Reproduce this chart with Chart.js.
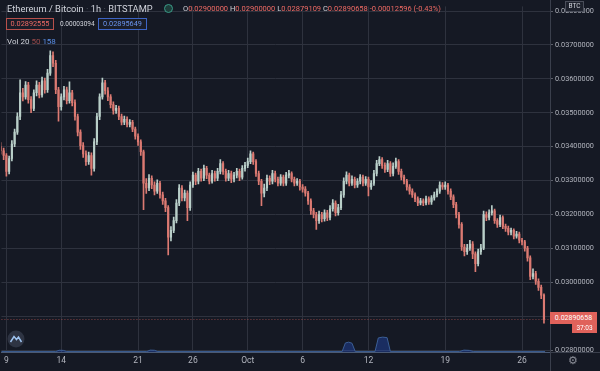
<!DOCTYPE html>
<html>
<head>
<meta charset="utf-8">
<script src="https://cdn.jsdelivr.net/npm/chart.js@4.4.0/dist/chart.umd.min.js"></script>
<style>
  html, body { margin: 0; padding: 0; background: #151924; }
  #wrap { position: relative; width: 600px; height: 371px; background: #151924; font-family: Roboto, "Noto Sans", sans-serif; overflow: hidden; }
  #wrap canvas { position: absolute; left: 0; top: 0; }
  .lbl { position: absolute; white-space: nowrap; line-height: 1; }
  .box { position: absolute; box-sizing: border-box; text-align: center; white-space: nowrap; }
  .w { color: #d1d4dc; }
  .r { color: #ef6a64; }
</style>
</head>
<body>
<div id="wrap">
  <canvas id="ethChart" width="600" height="371"></canvas>

  <div class="lbl w" style="left:7px;top:4px;font-size:9.3px;">Ethereum / Bitcoin <span style="color:#5d606b">·</span> 1h <span style="color:#5d606b">·</span> BITSTAMP</div>
  <div style="position:absolute;left:164px;top:4px;width:9px;height:9px;border-radius:50%;background:#1d3d3a;border:1.5px solid #3b9c88;box-sizing:border-box;"></div>
  <div class="lbl" style="left:183px;top:5px;font-size:7.5px;">
    <span class="w">O</span><span class="r">0.02900000</span>
    <span class="w">H</span><span class="r">0.02900000</span>
    <span class="w">L</span><span class="r">0.02879109</span>
    <span class="w">C</span><span class="r">0.02890658</span>
    <span class="r">-0.00012596 (-0.43%)</span>
  </div>

  <div class="box" style="left:6px;top:18px;width:48px;height:12px;border:1px solid #b8504b;color:#ef6a64;font-size:7.3px;line-height:10px;background:#1a1d28;">0.02892555</div>
  <div class="lbl w" style="left:60px;top:21px;font-size:6.5px;">0.00003094</div>
  <div class="box" style="left:98px;top:18px;width:49px;height:12px;border:1px solid #3d64c4;color:#6a94ef;font-size:7.3px;line-height:10px;background:#1a1d28;">0.02895649</div>

  <div class="lbl" style="left:7px;top:38px;font-size:8px;">
    <span class="w">Vol 20</span> <span style="color:#9c4b4b">50</span> <span style="color:#5a8fe8">158</span>
  </div>

  <div class="box" style="left:565px;top:1px;width:19px;height:11px;border:1px solid #4a4e5a;background:#1e222d;color:#d1d4dc;font-size:6.5px;line-height:9px;">BTC</div>

  <div class="box" style="left:550px;top:312px;width:47px;height:12px;background:#e0625b;color:#ffffff;font-size:7px;line-height:12px;">0.02890658</div>
  <div class="box" style="left:572px;top:324px;width:25px;height:9px;background:#e0625b;color:#ffffff;font-size:6.5px;line-height:9px;">37:03</div>

  <div class="lbl" style="left:568px;top:355px;font-size:11px;color:#8b8e98;">⚙</div>
</div>

<script>
// ETH / BTC on Bitstamp, read off the screenshot as 6h candles
// day 0 = Sep 9, one candle every quarter day
var startDay = -0.5;
var candleStep = 0.25;
var firstOpen = 0.03400;

var closes = [
  0.03388, 0.03374, 0.03327, 0.03365, 0.03408, 0.03443, 0.03489, 0.03559, 0.03547, 0.03582,
  0.03539, 0.03513, 0.03559, 0.03582, 0.03553, 0.03594, 0.03568, 0.03617, 0.03669, 0.03646,
  0.03568, 0.03518, 0.03547, 0.03568, 0.03536, 0.03559, 0.03530, 0.03489, 0.03443, 0.03403,
  0.03379, 0.03356, 0.03374, 0.03336, 0.03414, 0.03489, 0.03547, 0.03588, 0.03565, 0.03547,
  0.03524, 0.03507, 0.03513, 0.03489, 0.03472, 0.03481, 0.03466, 0.03472, 0.03452, 0.03431,
  0.03414, 0.03385, 0.03292, 0.03278, 0.03307, 0.03287, 0.03269, 0.03292, 0.03258, 0.03240,
  0.03220, 0.03133, 0.03153, 0.03182, 0.03234, 0.03278, 0.03249, 0.03263, 0.03220, 0.03287,
  0.03316, 0.03298, 0.03327, 0.03307, 0.03336, 0.03316, 0.03298, 0.03321, 0.03307, 0.03327,
  0.03350, 0.03327, 0.03307, 0.03321, 0.03304, 0.03316, 0.03327, 0.03310, 0.03336, 0.03345,
  0.03356, 0.03379, 0.03356, 0.03321, 0.03298, 0.03263, 0.03278, 0.03307, 0.03298, 0.03321,
  0.03304, 0.03292, 0.03310, 0.03292, 0.03316, 0.03321, 0.03304, 0.03292, 0.03298, 0.03281,
  0.03275, 0.03263, 0.03240, 0.03211, 0.03200, 0.03182, 0.03200, 0.03188, 0.03205, 0.03191,
  0.03217, 0.03234, 0.03205, 0.03220, 0.03258, 0.03298, 0.03316, 0.03292, 0.03304, 0.03287,
  0.03298, 0.03310, 0.03292, 0.03304, 0.03281, 0.03292, 0.03321, 0.03350, 0.03362, 0.03345,
  0.03333, 0.03350, 0.03321, 0.03342, 0.03356, 0.03327, 0.03310, 0.03298, 0.03281, 0.03269,
  0.03258, 0.03246, 0.03234, 0.03240, 0.03234, 0.03246, 0.03237, 0.03249, 0.03258, 0.03269,
  0.03287, 0.03281, 0.03287, 0.03269, 0.03252, 0.03229, 0.03200, 0.03171, 0.03104, 0.03090,
  0.03101, 0.03113, 0.03084, 0.03055, 0.03090, 0.03101, 0.03200, 0.03191, 0.03205, 0.03211,
  0.03182, 0.03171, 0.03191, 0.03165, 0.03159, 0.03148, 0.03153, 0.03136, 0.03142, 0.03124,
  0.03119, 0.03101, 0.03072, 0.03017, 0.03026, 0.03003, 0.02985, 0.02962, 0.02890658
];

var highs = [
  0.03412, 0.03396, 0.03380, 0.03372, 0.03418, 0.03452, 0.03500, 0.03597, 0.03572, 0.03592,
  0.03590, 0.03548, 0.03568, 0.03594, 0.03590, 0.03605, 0.03602, 0.03628, 0.03683, 0.03680,
  0.03655, 0.03575, 0.03556, 0.03578, 0.03576, 0.03591, 0.03566, 0.03538, 0.03496, 0.03450,
  0.03412, 0.03388, 0.03384, 0.03382, 0.03424, 0.03498, 0.03556, 0.03602, 0.03596, 0.03574,
  0.03554, 0.03532, 0.03522, 0.03520, 0.03496, 0.03490, 0.03488, 0.03480, 0.03478, 0.03458,
  0.03438, 0.03420, 0.03390, 0.03306, 0.03318, 0.03314, 0.03296, 0.03302, 0.03298, 0.03266,
  0.03248, 0.03226, 0.03164, 0.03192, 0.03244, 0.03288, 0.03285, 0.03272, 0.03270, 0.03296,
  0.03325, 0.03322, 0.03336, 0.03334, 0.03346, 0.03342, 0.03322, 0.03330, 0.03328, 0.03336,
  0.03362, 0.03356, 0.03334, 0.03330, 0.03328, 0.03324, 0.03336, 0.03334, 0.03344, 0.03354,
  0.03366, 0.03388, 0.03384, 0.03362, 0.03328, 0.03304, 0.03290, 0.03316, 0.03314, 0.03330,
  0.03328, 0.03310, 0.03318, 0.03316, 0.03324, 0.03330, 0.03326, 0.03310, 0.03306, 0.03304,
  0.03288, 0.03282, 0.03268, 0.03246, 0.03218, 0.03206, 0.03210, 0.03206, 0.03214, 0.03212,
  0.03226, 0.03244, 0.03240, 0.03230, 0.03268, 0.03308, 0.03326, 0.03322, 0.03314, 0.03310,
  0.03306, 0.03318, 0.03316, 0.03312, 0.03310, 0.03300, 0.03330, 0.03360, 0.03371, 0.03368,
  0.03352, 0.03360, 0.03356, 0.03352, 0.03366, 0.03362, 0.03334, 0.03316, 0.03304, 0.03288,
  0.03276, 0.03264, 0.03252, 0.03248, 0.03246, 0.03254, 0.03252, 0.03256, 0.03266, 0.03276,
  0.03296, 0.03294, 0.03296, 0.03292, 0.03276, 0.03258, 0.03236, 0.03206, 0.03176, 0.03112,
  0.03112, 0.03124, 0.03120, 0.03090, 0.03098, 0.03112, 0.03210, 0.03208, 0.03214, 0.03226,
  0.03216, 0.03188, 0.03198, 0.03196, 0.03172, 0.03166, 0.03160, 0.03158, 0.03150, 0.03148,
  0.03130, 0.03124, 0.03106, 0.03078, 0.03040, 0.03032, 0.03010, 0.02992, 0.02966
];

var lows = [
  0.03378, 0.03362, 0.03313, 0.03320, 0.03358, 0.03400, 0.03436, 0.03480, 0.03535, 0.03540,
  0.03528, 0.03500, 0.03506, 0.03550, 0.03544, 0.03546, 0.03558, 0.03560, 0.03610, 0.03636,
  0.03556, 0.03475, 0.03508, 0.03538, 0.03526, 0.03528, 0.03520, 0.03478, 0.03432, 0.03392,
  0.03368, 0.03345, 0.03348, 0.03316, 0.03328, 0.03406, 0.03480, 0.03540, 0.03555, 0.03536,
  0.03514, 0.03496, 0.03498, 0.03480, 0.03464, 0.03465, 0.03458, 0.03458, 0.03444, 0.03422,
  0.03404, 0.03374, 0.03214, 0.03262, 0.03270, 0.03276, 0.03258, 0.03262, 0.03248, 0.03230,
  0.03208, 0.03081, 0.03122, 0.03146, 0.03175, 0.03226, 0.03240, 0.03240, 0.03182, 0.03212,
  0.03280, 0.03288, 0.03290, 0.03298, 0.03300, 0.03306, 0.03290, 0.03292, 0.03298, 0.03300,
  0.03320, 0.03318, 0.03298, 0.03300, 0.03294, 0.03296, 0.03308, 0.03300, 0.03304, 0.03328,
  0.03338, 0.03350, 0.03348, 0.03312, 0.03288, 0.03226, 0.03252, 0.03270, 0.03288, 0.03290,
  0.03296, 0.03284, 0.03286, 0.03284, 0.03286, 0.03308, 0.03296, 0.03284, 0.03286, 0.03272,
  0.03266, 0.03254, 0.03230, 0.03200, 0.03190, 0.03156, 0.03174, 0.03178, 0.03180, 0.03182,
  0.03184, 0.03210, 0.03196, 0.03198, 0.03214, 0.03250, 0.03290, 0.03284, 0.03286, 0.03278,
  0.03280, 0.03290, 0.03284, 0.03286, 0.03255, 0.03274, 0.03286, 0.03314, 0.03344, 0.03336,
  0.03324, 0.03326, 0.03312, 0.03314, 0.03336, 0.03318, 0.03302, 0.03290, 0.03272, 0.03260,
  0.03250, 0.03238, 0.03226, 0.03228, 0.03226, 0.03228, 0.03230, 0.03230, 0.03242, 0.03252,
  0.03262, 0.03274, 0.03274, 0.03260, 0.03244, 0.03220, 0.03190, 0.03160, 0.03094, 0.03078,
  0.03082, 0.03094, 0.03070, 0.03031, 0.03048, 0.03082, 0.03096, 0.03182, 0.03184, 0.03198,
  0.03174, 0.03162, 0.03164, 0.03158, 0.03150, 0.03140, 0.03140, 0.03128, 0.03130, 0.03116,
  0.03110, 0.03092, 0.03062, 0.03008, 0.03010, 0.02994, 0.02976, 0.02952, 0.02879109
];

// volume pane (mostly flat, two spikes around Oct 10 and Oct 13)
var volDays = [-0.5, 4.5, 4.8, 5.2, 5.5, 12.8, 13.1, 13.5, 13.8, 30.6, 30.9, 31.2, 31.5, 31.8,
  33.6, 33.9, 34.3, 34.7, 35.0, 41.3, 41.7, 42.2, 42.6, 49.1];
var volValues = [150, 150, 650, 600, 150, 150, 700, 650, 150, 150, 3400, 3700, 3300, 150,
  150, 5300, 5600, 5400, 150, 150, 700, 600, 150, 150];

var dayTicks = [0, 5, 12, 17, 22, 27, 33, 40, 47];
var dayLabels = ['9', '14', '21', '26', 'Oct', '6', '12', '19', '26'];
var priceTicks = [0.028, 0.029, 0.030, 0.031, 0.032, 0.033, 0.034, 0.035, 0.036, 0.037, 0.038];

var upColor = '#b9cfc9';
var downColor = '#dc7a72';
var gridColor = '#2e323e';
var textColor = '#b2b5be';

var opens = closes.map(function (c, i) { return i === 0 ? firstOpen : closes[i - 1]; });

var wickData = [];
var bodyData = [];
var i;
for (i = 0; i < closes.length; i++) {
  var day = startDay + i * candleStep;
  wickData.push({ x: day, y: [lows[i], highs[i]] });
  bodyData.push({ x: day, y: [opens[i], closes[i]] });
}
var volData = volDays.map(function (d, k) { return { x: d, y: volValues[k] }; });

function candleColor(ctx) {
  var k = ctx.dataIndex;
  return closes[k] >= opens[k] ? upColor : downColor;
}

// extra bits: last price line, pane edges, logo
var decorPlugin = {
  id: 'decor',
  afterDraw: function (chart) {
    var c = chart.ctx;
    var area = chart.chartArea;
    var yLast = chart.scales.y.getPixelForValue(closes[closes.length - 1]);
    c.save();
    c.strokeStyle = 'rgba(224,98,91,0.55)';
    c.setLineDash([1, 2]);
    c.lineWidth = 1;
    c.beginPath();
    c.moveTo(area.left, Math.round(yLast) + 0.5);
    c.lineTo(area.right, Math.round(yLast) + 0.5);
    c.stroke();
    c.setLineDash([]);

    c.strokeStyle = '#3a3f4c';
    c.beginPath();
    c.moveTo(area.right + 0.5, 0);
    c.lineTo(area.right + 0.5, chart.height);
    c.moveTo(area.right, area.bottom + 0.5);
    c.lineTo(chart.width, area.bottom + 0.5);
    c.stroke();

    // tradingview logo
    c.fillStyle = '#2e3443';
    c.beginPath();
    c.arc(16, 339, 8.5, 0, Math.PI * 2);
    c.fill();
    c.strokeStyle = '#9ec3f0';
    c.lineWidth = 1.5;
    c.beginPath();
    c.moveTo(10.5, 342);
    c.lineTo(14, 336.5);
    c.lineTo(16.5, 339.5);
    c.lineTo(18.5, 337);
    c.lineTo(21.5, 342);
    c.stroke();
    c.restore();
  }
};

var ctx = document.getElementById('ethChart').getContext('2d');
var chart = new Chart(ctx, {
  type: 'bar',
  data: {
    datasets: [{
      type: 'line',
      data: volData,
      yAxisID: 'yv',
      borderColor: '#3c5f96',
      backgroundColor: 'rgba(41,98,255,0.28)',
      borderWidth: 1,
      pointRadius: 0,
      fill: 'origin',
      tension: 0,
      order: 3
    }, {
      data: wickData,
      backgroundColor: candleColor,
      barThickness: 1,
      grouped: false,
      order: 2
    }, {
      data: bodyData,
      backgroundColor: candleColor,
      barThickness: 1.5,
      minBarLength: 1,
      grouped: false,
      order: 1
    }]
  },
  options: {
    responsive: false,
    animation: false,
    events: [],
    layout: { padding: 0 },
    plugins: {
      legend: { display: false },
      tooltip: { enabled: false }
    },
    scales: {
      x: {
        type: 'linear',
        min: -0.45,
        max: 49.55,
        offset: false,
        afterBuildTicks: function (scale) {
          scale.ticks = dayTicks.map(function (v) { return { value: v }; });
        },
        afterFit: function (scale) { scale.height = 19; },
        ticks: {
          color: textColor,
          font: { family: 'Roboto', size: 8.5 },
          padding: 4,
          autoSkip: false,
          maxRotation: 0,
          callback: function (value) { return dayLabels[dayTicks.indexOf(value)]; }
        },
        grid: { color: gridColor, drawTicks: false, offset: false },
        border: { color: '#4b5a74' }
      },
      y: {
        position: 'right',
        min: 0.027944,
        max: 0.038138,
        afterBuildTicks: function (scale) {
          scale.ticks = priceTicks.map(function (v) { return { value: v }; });
        },
        afterFit: function (scale) { scale.width = 50; },
        ticks: {
          color: textColor,
          font: { family: 'Roboto', size: 7.3 },
          padding: 2,
          callback: function (value) { return value.toFixed(8); }
        },
        grid: { color: gridColor, tickLength: 3, tickColor: '#5d606b' },
        border: { color: '#3a3f4c' }
      },
      yv: {
        display: false,
        min: 0,
        max: 130000
      }
    }
  },
  plugins: [decorPlugin]
});
</script>
</body>
</html>
